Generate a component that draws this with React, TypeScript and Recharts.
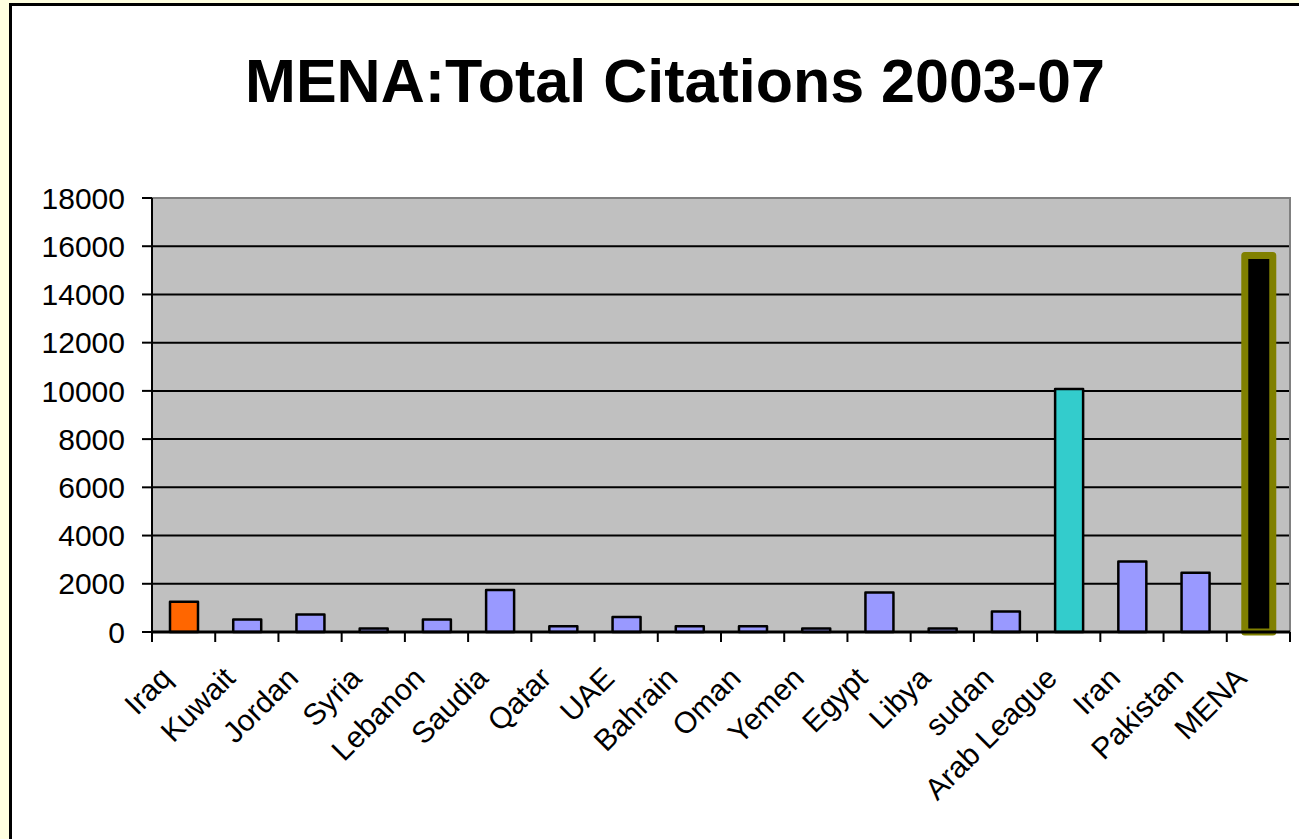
import { BarChart, Bar, Cell, XAxis, YAxis, CartesianGrid, ReferenceArea } from "recharts";

// ── Data ─────────────────────────────────────────────────────────────

const CATEGORIES = [
  "Iraq", "Kuwait", "Jordan", "Syria", "Lebanon", "Saudia", "Qatar", "UAE", "Bahrain",
  "Oman", "Yemen", "Egypt", "Libya", "sudan", "Arab League", "Iran", "Pakistan", "MENA",
];

const CITATIONS = [
  1250, 520, 730, 150, 520, 1740, 240, 620, 240,
  240, 150, 1640, 150, 850, 10080, 2920, 2460, 15620,
];

const Y_TICKS = [0, 2000, 4000, 6000, 8000, 10000, 12000, 14000, 16000, 18000];

// bar styling, by category index
const BAR_FILLS = [
  "#FF6600", "#9999FF", "#9999FF", "#9999FF", "#9999FF", "#9999FF", "#9999FF", "#9999FF", "#9999FF",
  "#9999FF", "#9999FF", "#9999FF", "#9999FF", "#9999FF", "#33CCCC", "#9999FF", "#9999FF", "#000000",
];

// ── Layout ───────────────────────────────────────────────────────────

const W = 1299;
const H = 839;
const PLOT_LEFT = 152;
const PLOT_RIGHT = 1290;
const PLOT_TOP = 198;
const PLOT_BOTTOM = 632;
const X_AXIS_H = 30;
const BAND = (PLOT_RIGHT - PLOT_LEFT) / CATEGORIES.length;
const FONT = "'Liberation Sans', Arial, sans-serif";

const data = CATEGORIES.map((name, i) => ({ name, citations: CITATIONS[i] }));

// Excel-style category tick: marks on the band edges, label rotated -45°
function CategoryTick(props: any) {
  const { x, y, payload, index } = props;
  const half = BAND / 2;
  return (
    <g>
      <line x1={x - half} y1={y} x2={x - half} y2={y + 10} stroke="#000" strokeWidth={2} />
      {index === CATEGORIES.length - 1 && (
        <line x1={x + half} y1={y} x2={x + half} y2={y + 10} stroke="#000" strokeWidth={2} />
      )}
      <text
        transform={`translate(${x - 10},${y + 48}) rotate(-45)`}
        textAnchor="end"
        fontSize={30}
        fontFamily={FONT}
        fill="#000"
      >
        {payload.value}
      </text>
    </g>
  );
}

export default function App() {
  return (
    <div style={{ position: "fixed", left: 0, top: 0, width: W, height: H, background: "#FFFFE0", overflow: "hidden" }}>
      <div
        style={{
          position: "absolute",
          left: 9,
          top: 3,
          width: W,
          height: H,
          background: "#FFFFFF",
          borderLeft: "3px solid #000",
          borderTop: "3px solid #000",
        }}
      />
      <div
        style={{
          position: "absolute",
          left: 175,
          top: 51,
          width: 1000,
          textAlign: "center",
          fontFamily: FONT,
          fontWeight: 700,
          fontSize: 61,
          lineHeight: "61px",
          color: "#000",
          whiteSpace: "nowrap",
        }}
      >
        MENA:Total Citations 2003-07
      </div>
      <div style={{ position: "absolute", left: 0, top: 0 }}>
        <BarChart
          width={W}
          height={H}
          data={data}
          margin={{ top: PLOT_TOP, right: W - PLOT_RIGHT, bottom: H - PLOT_BOTTOM - X_AXIS_H, left: 0 }}
        >
          <CartesianGrid vertical={false} fill="#C0C0C0" fillOpacity={1} stroke="#000" strokeWidth={2} />
          <ReferenceArea y1={0} y2={18000} fill="none" stroke="#808080" strokeWidth={2} />
          <Bar dataKey="citations" barSize={28} isAnimationActive={false}>
            {data.map((d, i) => (
              <Cell
                key={d.name}
                fill={BAR_FILLS[i]}
                stroke={d.name === "MENA" ? "#808000" : "#000"}
                strokeWidth={d.name === "MENA" ? 7 : 2.5}
                strokeLinejoin="round"
              />
            ))}
          </Bar>
          <XAxis
            dataKey="name"
            height={X_AXIS_H}
            interval={0}
            tickLine={false}
            tickSize={0}
            tickMargin={0}
            axisLine={{ stroke: "#000", strokeWidth: 3 }}
            tick={CategoryTick as any}
          />
          <YAxis
            width={PLOT_LEFT}
            domain={[0, 18000]}
            ticks={Y_TICKS}
            interval={0}
            tickSize={10}
            tickMargin={17}
            axisLine={{ stroke: "#000", strokeWidth: 2 }}
            tickLine={{ stroke: "#000", strokeWidth: 2 }}
            tick={{ fill: "#000", fontSize: 30, fontFamily: FONT }}
          />
        </BarChart>
      </div>
    </div>
  );
}
